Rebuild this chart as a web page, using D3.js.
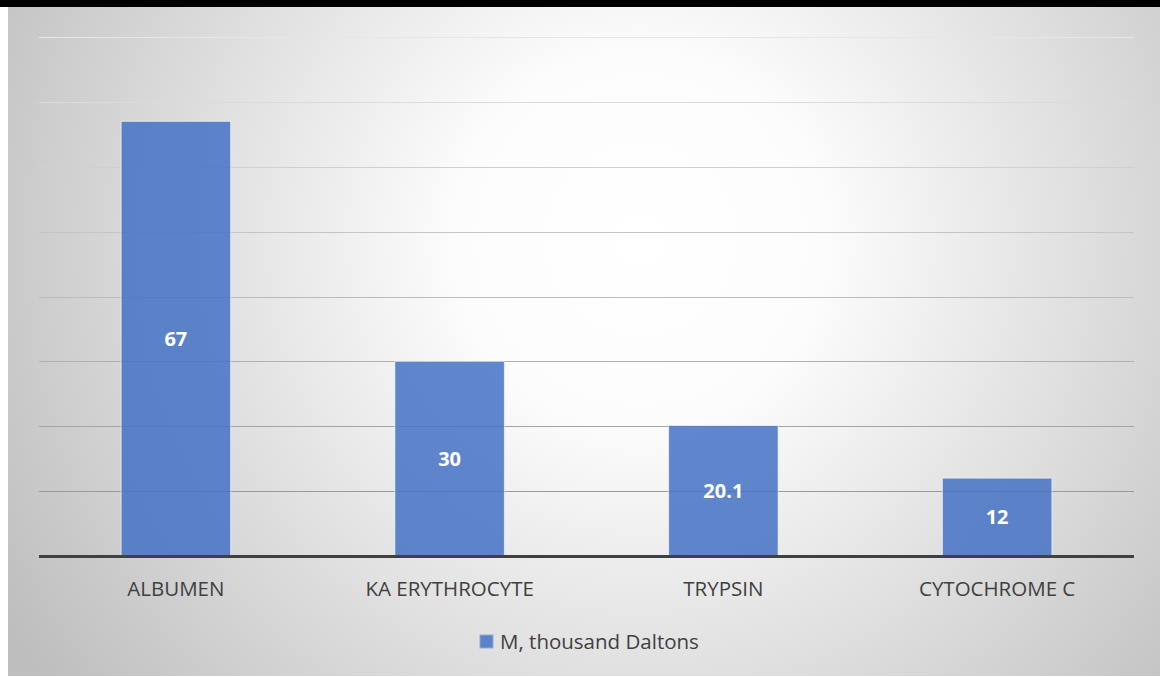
<!DOCTYPE html>
<html>
<head>
<meta charset="utf-8">
<script src="https://cdn.jsdelivr.net/npm/d3@7/dist/d3.min.js"></script>
<style>
  body { margin: 0; background: #fff; }
  svg { display: block; }
</style>
</head>
<body>
<div id="chart"></div>
<script>

const categories = ["ALBUMEN", "KA ERYTHROCYTE", "TRYPSIN", "CYTOCHROME C"];
const values = [67, 30, 20.1, 12];
const valueLabels = ["67", "30", "20.1", "12"];
const gridTicks = [10, 20, 30, 40, 50, 60, 70, 80];
const seriesName = "M, thousand Daltons";

var width = 1160;
var height = 677;
var margin = ({top: 37, right: 26, bottom: 121, left: 39});

var svg = d3.select("#chart")
  .append("svg")
    .attr("width", width)
    .attr("height", height)

var defs = svg.append("defs")

// radial background like the office chart style
var grad = defs.append("radialGradient")
    .attr("id", "bg")
    .attr("gradientUnits", "userSpaceOnUse")
    .attr("cx", 640).attr("cy", 240).attr("r", 740)
grad.append("stop").attr("offset", "0%").attr("stop-color", "#ffffff")
grad.append("stop").attr("offset", "25%").attr("stop-color", "#fcfcfc")
grad.append("stop").attr("offset", "100%").attr("stop-color", "#bebebe")

svg.append("rect")
    .attr("x", 8).attr("y", 7)
    .attr("width", width - 8).attr("height", height - 8)
    .attr("fill", "url(#bg)")

// black band at the top
svg.append("rect")
    .attr("x", 0).attr("y", 0)
    .attr("width", width).attr("height", 7)
    .attr("fill", "#000")

var x = d3.scaleBand()
    .domain(categories)
    .range([margin.left, width - margin.right])
    .paddingInner(0.6)
    .paddingOuter(0.3)

var y = d3.scaleLinear()
    .domain([0, 80])
    .range([height - margin.bottom - 0, margin.top])

var gridColor = d3.scaleLinear()
    .domain([10, 80])
    .range(["#9a9a9a", "#e6e6e6"])

// gridlines
svg.append("g")
  .selectAll("line")
  .data(gridTicks)
  .join("line")
    .attr("x1", margin.left)
    .attr("x2", width - margin.right)
    .attr("y1", d => Math.round(y(d)) + 0.5)
    .attr("y2", d => Math.round(y(d)) + 0.5)
    .attr("stroke", d => gridColor(d))
    .attr("stroke-width", 1.2)

// bars
svg.append("g")
  .selectAll("rect")
  .data(values)
  .join("rect")
    .attr("x", (d, i) => x(categories[i]))
    .attr("y", d => y(d))
    .attr("width", x.bandwidth())
    .attr("height", d => y(0) - y(d))
    .attr("fill", "#4472c4")
    .attr("fill-opacity", 0.85)
    .attr("stroke", "#ffffff")
    .attr("stroke-opacity", 0.6)
    .attr("stroke-width", 1)

// value labels
svg.append("g")
  .selectAll("text")
  .data(values)
  .join("text")
    .attr("x", (d, i) => x(categories[i]) + x.bandwidth() / 2)
    .attr("y", d => (y(d) + y(0)) / 2)
    .attr("dy", "0.35em")
    .attr("text-anchor", "middle")
    .attr("fill", "#ffffff")
    .attr("font-family", "Open Sans")
    .attr("font-weight", "bold")
    .attr("font-size", 20)
    .text((d, i) => valueLabels[i])

// baseline axis
svg.append("line")
    .attr("x1", margin.left)
    .attr("x2", width - margin.right)
    .attr("y1", y(0) + 0.5)
    .attr("y2", y(0) + 0.5)
    .attr("stroke", "#404040")
    .attr("stroke-width", 3)

// category labels
svg.append("g")
  .selectAll("text")
  .data(categories)
  .join("text")
    .attr("x", d => x(d) + x.bandwidth() / 2)
    .attr("y", y(0) + 33)
    .attr("dy", "0.35em")
    .attr("text-anchor", "middle")
    .attr("fill", "#404040")
    .attr("font-family", "Open Sans")
    .attr("font-size", 20.5)
    .text(d => d)

// legend
var legend = svg.append("g")
    .attr("transform", "translate(480,642)")

legend.append("rect")
    .attr("x", 0).attr("y", -7)
    .attr("width", 13).attr("height", 13)
    .attr("fill", "#4472c4")
    .attr("fill-opacity", 0.85)
    .attr("stroke", "#8fa9dc")

legend.append("text")
    .attr("x", 20)
    .attr("y", 0)
    .attr("dy", "0.35em")
    .attr("fill", "#404040")
    .attr("font-family", "Open Sans")
    .attr("font-size", 20.5)
    .text(seriesName)

</script>
</body>
</html>
